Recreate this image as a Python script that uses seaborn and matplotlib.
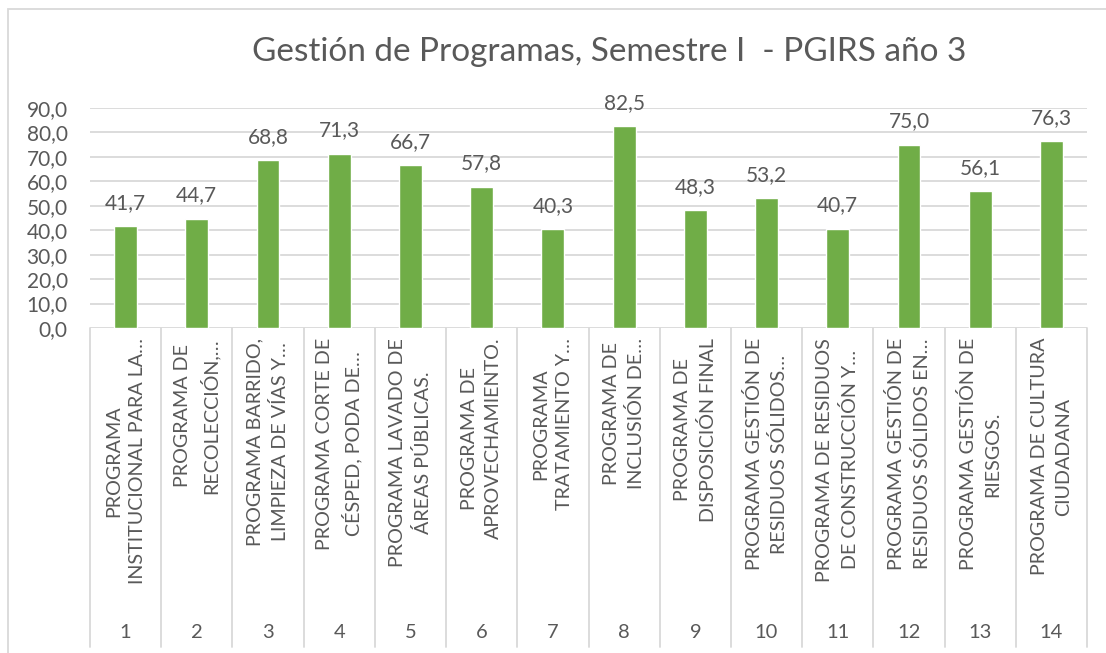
import numpy as np
import pandas as pd
import matplotlib
matplotlib.use('Agg')
import matplotlib.pyplot as plt
import matplotlib.patches as patches
from matplotlib.ticker import FuncFormatter
import seaborn as sns

# Datos del grafico
numeros = [str(i) for i in range(1, 15)]
programas = [
    "PROGRAMA\nINSTITUCIONAL PARA LA…",
    "PROGRAMA DE\nRECOLECCIÓN,…",
    "PROGRAMA BARRIDO,\nLIMPIEZA DE VÍAS Y…",
    "PROGRAMA CORTE DE\nCÉSPED, PODA DE…",
    "PROGRAMA LAVADO DE\nÁREAS PÚBLICAS.",
    "PROGRAMA DE\nAPROVECHAMIENTO.",
    "PROGRAMA\nTRATAMIENTO Y…",
    "PROGRAMA DE\nINCLUSIÓN DE…",
    "PROGRAMA DE\nDISPOSICIÓN FINAL",
    "PROGRAMA GESTIÓN DE\nRESIDUOS SÓLIDOS…",
    "PROGRAMA DE RESIDUOS\nDE CONSTRUCCIÓN Y…",
    "PROGRAMA GESTIÓN DE\nRESIDUOS SÓLIDOS EN…",
    "PROGRAMA GESTIÓN DE\nRIESGOS.",
    "PROGRAMA DE CULTURA\nCIUDADANA",
]
valores = [41.7, 44.7, 68.8, 71.3, 66.7, 57.8, 40.3, 82.5, 48.3, 53.2, 40.7, 75.0, 56.1, 76.3]
titulo = "Gestión de Programas, Semestre I  - PGIRS año 3"

df = pd.DataFrame({'num': numeros, 'valor': valores})

VERDE = '#70AD47'
GRIS_TXT = '#595959'
GRIS_LIN = '#D9D9D9'

sns.set_style('white')
plt.rcParams['font.family'] = ['Lato', 'DejaVu Sans']

W, H = 1106, 653
fig = plt.figure(figsize=(W / 100, H / 100), dpi=100)
# area del grafico en pixeles: x 90..1087, y 108..328
ax = fig.add_axes([90 / W, 1 - 328 / H, (1087 - 90) / W, (328 - 108) / H])

sns.barplot(data=df, x='num', y='valor', color=VERDE, saturation=1, width=0.32, ax=ax)

ax.set_ylim(0, 90)
ax.set_xlim(-0.5, len(numeros) - 0.5)
ax.set_yticks(np.arange(0, 91, 10))
ax.yaxis.set_major_formatter(FuncFormatter(lambda v, p: f"{v:.1f}".replace('.', ',')))
ax.tick_params(axis='y', length=0, pad=16, labelsize=15, labelcolor=GRIS_TXT)
ax.set_xticks([])
ax.set_xlabel('')
ax.set_ylabel('')
ax.grid(axis='y', color=GRIS_LIN, linewidth=1.3)
ax.set_axisbelow(True)
for s in ax.spines.values():
    s.set_visible(False)

# etiquetas de valor
for i, v in enumerate(valores):
    ax.annotate(f"{v:.1f}".replace('.', ','), (i, v), xytext=(0, 9.5), textcoords='offset points',
                ha='center', va='bottom', fontsize=15, color=GRIS_TXT)

# eje de categorias de dos niveles
tr = ax.get_xaxis_transform()
for i, (n, p) in enumerate(zip(numeros, programas)):
    ax.text(i, -0.045, p, transform=tr, rotation=90, ha='center', va='top',
            multialignment='center', linespacing=1.5, fontsize=14.2, color=GRIS_TXT)
    ax.text(i, -1.382, n, transform=tr, ha='center', va='center', fontsize=14.5, color=GRIS_TXT)
for b in np.arange(-0.5, len(numeros), 1.0):
    ax.plot([b, b], [0, -1.45], transform=tr, color=GRIS_LIN, linewidth=1.3, clip_on=False)

fig.text(609 / W, 1 - 52 / H, titulo, ha='center', va='center', fontsize=24, color=GRIS_TXT)

# borde del area del grafico
fig.patches.append(patches.Rectangle((8 / W, -0.1), 1.2, 1.1 - 9 / H, transform=fig.transFigure,
                                     fill=False, edgecolor=GRIS_LIN, linewidth=1.3))

fig.savefig('out.png', dpi=100, facecolor='white')
